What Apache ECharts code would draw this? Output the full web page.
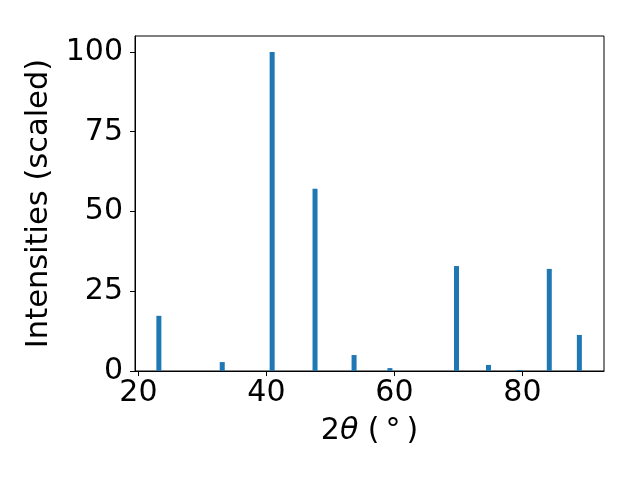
<!DOCTYPE html>
<html>
<head>
<meta charset="utf-8">
<script src="https://cdn.jsdelivr.net/npm/echarts@6/dist/echarts.min.js"></script>
<style>html,body{margin:0;padding:0;background:#fff}#c{width:640px;height:480px}</style>
</head>
<body>
<div id="c"></div>
<script>
var twoTheta = [23.2, 33.1, 40.9, 47.6, 53.7, 59.3, 69.7, 74.7, 79.5, 84.2, 88.9];
var intensity = [17.3, 2.8, 100, 57.1, 5.0, 0.9, 32.9, 1.9, 0.3, 32.0, 11.3];
var xTicks = [20, 40, 60, 80];
var yTicks = [0, 25, 50, 75, 100];

var font = 'DejaVu Sans';
var fs = 30;
var chart = echarts.init(document.getElementById('c'), null, {renderer: 'canvas'});
var data = twoTheta.map(function (x, i) { return [x, intensity[i]]; });
chart.setOption({
  animation: false,
  backgroundColor: '#ffffff',
  grid: {left: 135, right: 36, top: 36, bottom: 109, show: true, borderColor: '#000', borderWidth: 1, backgroundColor: 'transparent'},
  xAxis: {
    type: 'value', min: 19.47, max: 92.75,
    axisLine: {show: true, onZero: false, lineStyle: {color: '#000', width: 1}},
    axisTick: {show: true, length: 5, lineStyle: {color: '#000'}, customValues: xTicks},
    axisLabel: {show: true, customValues: xTicks, color: '#000', fontFamily: font, fontSize: fs, margin: 7},
    splitLine: {show: false},
    name: '2{i|θ} ({s|°})', nameLocation: 'middle', nameGap: 45,
    nameTextStyle: {color: '#000', fontFamily: font, fontSize: fs,
      rich: {i: {fontFamily: font, fontSize: fs, fontStyle: 'italic', color: '#000'},
             s: {fontFamily: font, fontSize: fs, color: '#000', padding: [0, 6, 0, 6]}}}
  },
  yAxis: {
    type: 'value', min: 0, max: 105,
    axisLine: {show: true, lineStyle: {color: '#000', width: 1}},
    axisTick: {show: true, length: 5, lineStyle: {color: '#000'}, customValues: yTicks},
    axisLabel: {show: true, customValues: yTicks, color: '#000', fontFamily: font, fontSize: fs, margin: 12},
    splitLine: {show: false},
    name: 'Intensities (scaled)', nameLocation: 'middle', nameGap: 76, nameRotate: 90,
    nameTextStyle: {color: '#000', fontFamily: font, fontSize: 30.5}
  },
  series: [{
    type: 'bar', data: data, barWidth: 5,
    itemStyle: {color: '#1f77b4'}
  }]
});
</script>
</body>
</html>
